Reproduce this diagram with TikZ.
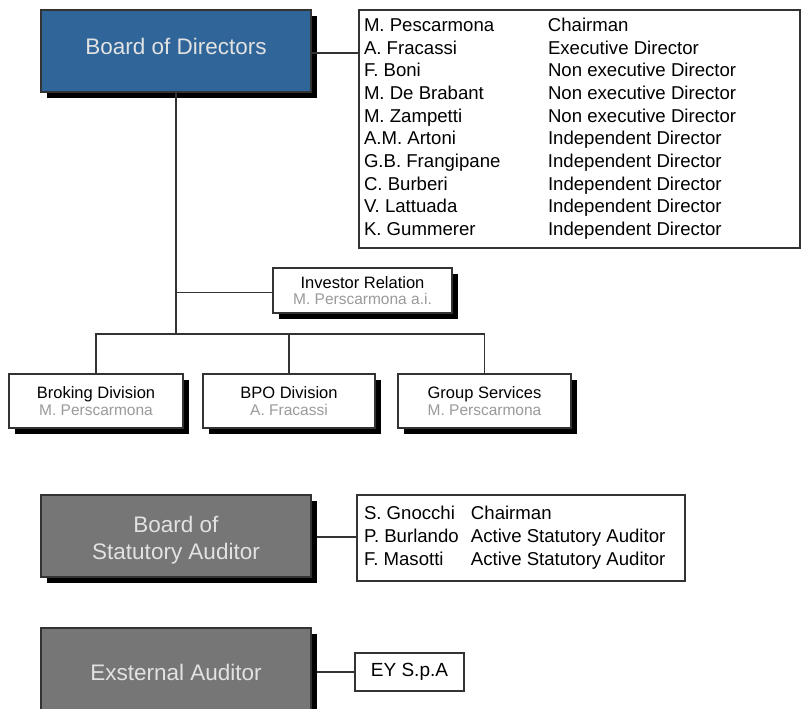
\documentclass[tikz,border=0pt]{standalone}
\usepackage{fontspec}
\setmainfont{Liberation Sans}
\usetikzlibrary{shadows}
\definecolor{bodblue}{HTML}{2F6599}
\definecolor{boxgray}{HTML}{767676}
\definecolor{lightTxt}{HTML}{E2E2E2}
\definecolor{subTxt}{HTML}{9A9A9A}
\definecolor{lineCol}{HTML}{333333}
\begin{document}
\begin{tikzpicture}[x=1pt,y=-1pt,
  every node/.style={outer sep=0pt, inner sep=0pt},
  shad/.style={drop shadow={shadow xshift=5.5pt, shadow yshift=-6pt, fill=black, opacity=1}},
  bigbox/.style={draw=lineCol, line width=1.2pt, shad, text=lightTxt, align=center,
    minimum width=270pt, font=\fontsize{22.5}{27}\selectfont},
  unitbox/.style={draw=lineCol, line width=1.2pt, shad, fill=white, align=center,
    font=\fontsize{16.5}{17.5}\selectfont},
  listbox/.style={draw=lineCol, line width=1.2pt, fill=white, anchor=north west},
  conn/.style={draw=lineCol, line width=1.3pt}
]
\useasboundingbox (0,0) rectangle (801,709);
\clip (0,0) rectangle (801,709);

% Board of Directors
\node[bigbox, fill=bodblue, minimum height=82pt, anchor=north west] (bod) at (41,10)
 {\raisebox{4.5pt}[\height][\depth]{Board of Directors}};

% Directors list
\node[listbox, minimum width=441pt, minimum height=238pt] (dirs) at (359,10)
 {\fontsize{18.6}{22.7}\selectfont
  \begin{tabular}{@{\hspace{5pt}}p{184pt}@{}p{252pt}@{}}
  M. Pescarmona & Chairman\\
  A. Fracassi & Executive Director\\
  F. Boni & Non executive Director\\
  M. De Brabant & Non executive Director\\
  M. Zampetti & Non executive Director\\
  A.M. Artoni & Independent Director\\
  G.B. Frangipane & Independent Director\\
  C. Burberi & Independent Director\\
  V. Lattuada & Independent Director\\
  K. Gummerer & Independent Director
  \end{tabular}};

% Investor Relation
\node[unitbox, minimum width=179pt, minimum height=45pt, anchor=north west] (ir) at (273,268)
 {Investor Relation\\[-2pt]{\color{subTxt}\fontsize{15.5}{17}\selectfont M. Perscarmona a.i.}};

% Divisions
\node[unitbox, minimum width=174pt, minimum height=54pt, anchor=north west] (b1) at (9,374)
 {Broking Division\\{\color{subTxt}\fontsize{15.5}{17}\selectfont M. Perscarmona}};
\node[unitbox, minimum width=172pt, minimum height=54pt, anchor=north west] (b2) at (203,374)
 {BPO Division\\{\color{subTxt}\fontsize{15.5}{17}\selectfont A. Fracassi}};
\node[unitbox, minimum width=173pt, minimum height=54pt, anchor=north west] (b3) at (398,374)
 {Group Services\\{\color{subTxt}\fontsize{15.5}{17}\selectfont M. Perscarmona}};

% Board of Statutory Auditor
\node[bigbox, fill=boxgray, minimum height=82pt, anchor=north west] (bsa) at (41,495)
 {\raisebox{-4.5pt}[\height][\depth]{\begin{tabular}{@{}c@{}}Board of\\Statutory Auditor\end{tabular}}};
\node[listbox, minimum width=328pt, minimum height=86pt] (sal) at (357,495)
 {\fontsize{18.6}{23}\selectfont
  \begin{tabular}{@{\hspace{7pt}}p{107pt}@{}p{214pt}@{}}
  S. Gnocchi & Chairman\\
  P. Burlando & Active Statutory Auditor\\
  F. Masotti & Active Statutory Auditor
  \end{tabular}};

% External Auditor
\node[bigbox, fill=boxgray, minimum height=88pt, anchor=north west] (ext) at (41,628)
 {Exsternal Auditor};
\node[listbox, minimum width=109pt, minimum height=38pt, font=\fontsize{19}{22}\selectfont] (ey) at (355,653)
 {EY S.p.A};

% Connectors
\coordinate (bus) at (176,334);
\draw[conn] ([yshift=-2pt]bod.east) -- ([yshift=-2pt]bod.east -| dirs.west);
\draw[conn] (bod.south) -- (bus);
\draw[conn] ([yshift=-2pt]ir.west) -- ([yshift=-2pt]ir.west -| bod.south);
\draw[conn] (b1.north) |- (bus) -| (b3.north);
\draw[conn] (b2.north) -- (b2.north |- bus);
\draw[conn] ([xshift=5.5pt,yshift=-1pt]bsa.east) -- ([yshift=-1pt]bsa.east -| sal.west);
\draw[conn] ([xshift=5.5pt]ext.east |- ey.west) -- (ey.west);
\end{tikzpicture}
\end{document}
